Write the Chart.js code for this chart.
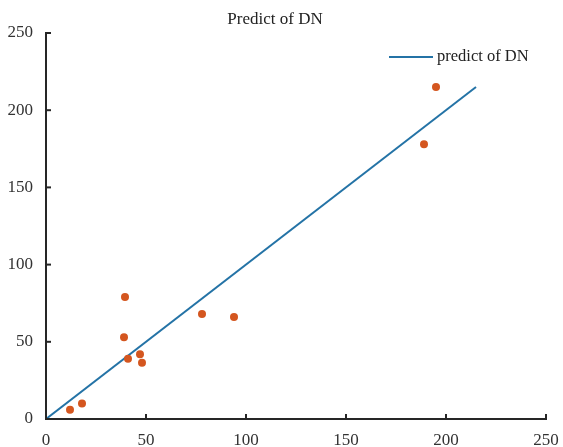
<!DOCTYPE html>
<html>
<head>
<meta charset="utf-8">
<script src="https://cdn.jsdelivr.net/npm/chart.js@4.4.1/dist/chart.umd.min.js"></script>
<style>
html, body { margin: 0; padding: 0; background: #fff; }
#wrap { width: 563px; height: 447px; }
</style>
</head>
<body>
<div id="wrap"><canvas id="dnChart"></canvas></div>
<script>
// fitted line
const lineX = [0, 215];
const lineY = [0, 215];
// measured samples
const sampleX = [12, 18, 39, 39.5, 41, 47, 48, 78, 94, 189, 195];
const sampleY = [6, 10, 53, 79, 39, 42, 36.5, 68, 66, 178, 215];
const tickValues = [0, 50, 100, 150, 200, 250];
const titleText = 'Predict of DN';
const lineLabel = 'predict of DN';

const lineColor = '#2473a6';
const dotColor = '#d4561f';
const axisColor = '#262626';
const serif = '"Liberation Serif", "Times New Roman", serif';

Chart.defaults.font.family = serif;
Chart.defaults.font.size = 17;
Chart.defaults.color = '#333';

// matlab style: inward ticks, title and legend drawn over the axes
const matlabAxes = {
    id: 'matlabAxes',
    afterDraw(chart) {
        const { ctx, chartArea, scales } = chart;
        ctx.save();
        ctx.strokeStyle = axisColor;
        ctx.lineWidth = 2;
        tickValues.forEach(v => {
            const px = scales.x.getPixelForValue(v);
            ctx.beginPath();
            ctx.moveTo(px, chartArea.bottom);
            ctx.lineTo(px, chartArea.bottom - 5);
            ctx.stroke();
            const py = scales.y.getPixelForValue(v);
            ctx.beginPath();
            ctx.moveTo(chartArea.left, py);
            ctx.lineTo(chartArea.left + 5, py);
            ctx.stroke();
        });

        ctx.fillStyle = '#222';
        ctx.font = '17px ' + serif;
        ctx.textAlign = 'center';
        ctx.textBaseline = 'middle';
        ctx.fillText(titleText, 275, 20);

        // legend
        const ly = 57;
        const lx = chartArea.right - 157;
        ctx.strokeStyle = lineColor;
        ctx.lineWidth = 2;
        ctx.beginPath();
        ctx.moveTo(lx, ly);
        ctx.lineTo(lx + 44, ly);
        ctx.stroke();
        ctx.font = '16.5px ' + serif;
        ctx.textAlign = 'left';
        ctx.fillText(lineLabel, lx + 48, ly);
        ctx.restore();
    }
};

new Chart(document.getElementById('dnChart'), {
    type: 'scatter',
    data: {
        datasets: [{
            label: lineLabel,
            data: lineX.map((x, i) => ({ x: x, y: lineY[i] })),
            showLine: true,
            borderColor: lineColor,
            borderWidth: 2,
            pointRadius: 0,
            order: 2
        }, {
            label: 'samples',
            data: sampleX.map((x, i) => ({ x: x, y: sampleY[i] })),
            backgroundColor: dotColor,
            borderWidth: 0,
            pointRadius: 4,
            order: 1
        }]
    },
    options: {
        responsive: true,
        maintainAspectRatio: false,
        animation: false,
        layout: {
            padding: { top: 33, right: 17, left: 0, bottom: 0 }
        },
        plugins: {
            legend: { display: false },
            title: { display: false },
            tooltip: { enabled: false }
        },
        scales: {
            x: {
                type: 'linear',
                min: 0,
                max: 250,
                afterBuildTicks: function(scale) {
                    scale.ticks = tickValues.map(v => ({ value: v }));
                },
                afterFit: function(scale) {
                    scale.height = 28;
                },
                grid: { display: false },
                border: { display: true, color: axisColor, width: 2 },
                ticks: { padding: 3, maxRotation: 0 }
            },
            y: {
                type: 'linear',
                min: 0,
                max: 250,
                afterBuildTicks: function(scale) {
                    scale.ticks = tickValues.map(v => ({ value: v }));
                },
                afterFit: function(scale) {
                    scale.width = 46;
                },
                grid: { display: false },
                border: { display: true, color: axisColor, width: 2 },
                ticks: { padding: 5 }
            }
        }
    },
    plugins: [matlabAxes]
});
</script>
</body>
</html>
